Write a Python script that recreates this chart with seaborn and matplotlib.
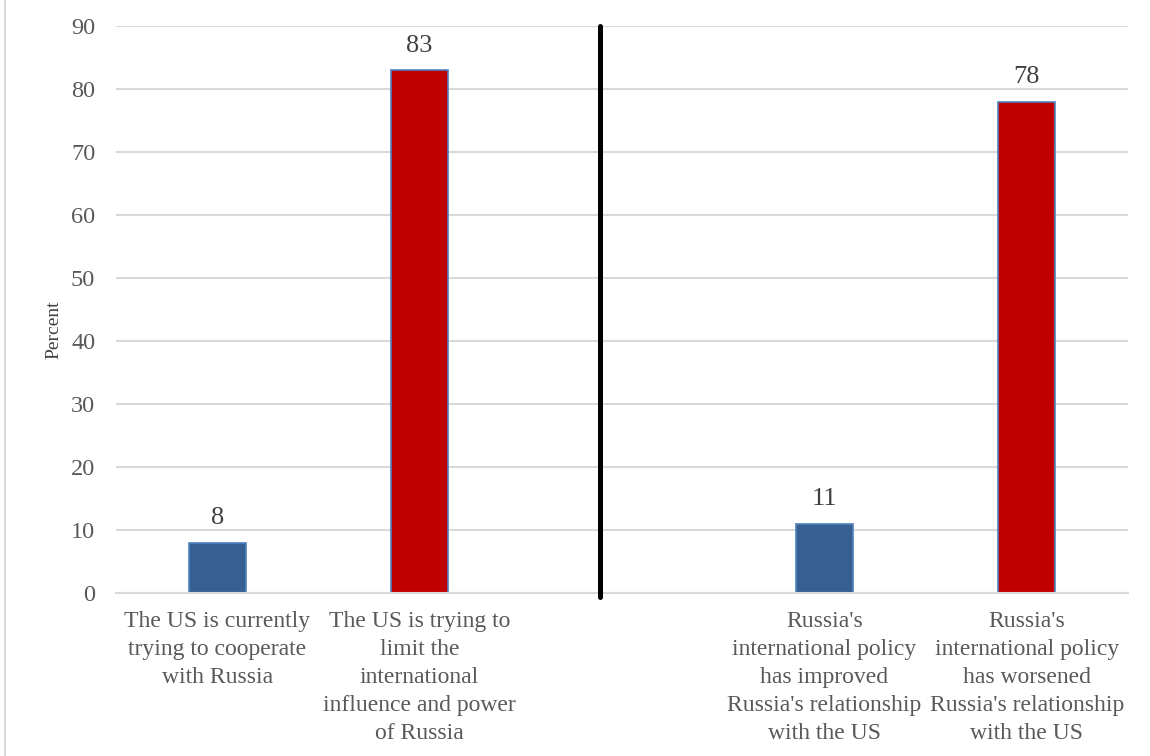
import matplotlib
matplotlib.use("Agg")
import matplotlib.pyplot as plt
import seaborn as sns
import pandas as pd
from matplotlib.patches import Rectangle

categories = [
    "The US is currently\ntrying to cooperate\nwith Russia",
    "The US is trying to\nlimit the\ninternational\ninfluence and power\nof Russia",
    "",
    "Russia's\ninternational policy\nhas improved\nRussia's relationship\nwith the US",
    "Russia's\ninternational policy\nhas worsened\nRussia's relationship\nwith the US",
]
values = [8, 83, None, 11, 78]
colors = ["#376092", "#C00000", "#FFFFFF", "#376092", "#C00000"]
yticks = [0, 10, 20, 30, 40, 50, 60, 70, 80, 90]

sns.set_theme(style="white")
plt.rcParams["font.family"] = ["Liberation Serif", "DejaVu Serif"]

df = pd.DataFrame({"cat": categories, "val": values, "col": colors}).dropna()

fig = plt.figure(figsize=(11.5, 7.56), dpi=100)
ax = fig.add_axes([116/1150, 1-593/756, (1128-116)/1150, (593-26)/756])

sns.barplot(data=df, x="cat", y="val", hue="cat", order=categories, hue_order=categories,
            palette=dict(zip(categories, colors)), legend=False, width=0.28, saturation=1,
            edgecolor="#4F81BD", linewidth=1.2, ax=ax)

for i, (c, v) in enumerate(zip(categories, values)):
    if v is not None:
        ax.text(i, v + 2.1, f"{v:g}", ha="center", va="bottom", fontsize=19, color="#404040")

ax.set_ylim(0, 90)
ax.set_xlim(-0.5, len(categories) - 0.5)
ax.set_yticks(yticks)
ax.grid(axis="y", color="#D9D9D9", linewidth=1.5)
ax.set_axisbelow(True)
for s in ["top", "right", "left"]:
    ax.spines[s].set_visible(False)
ax.spines["bottom"].set_color("#D9D9D9")
ax.spines["bottom"].set_linewidth(1.5)
ax.tick_params(axis="y", length=0, pad=15, labelsize=17.5, labelcolor="#595959")
ax.tick_params(axis="x", length=0, pad=13, labelsize=17, labelcolor="#595959")
for lab in ax.get_xticklabels():
    lab.set_linespacing(1.44)
ax.set_xlabel("")
ax.set_ylabel("Percent", fontsize=14, color="#404040")
ax.yaxis.set_label_coords(-0.053, 0.465)

ax.plot([1.893, 1.893], [-0.7, 90], color="black", linewidth=3.6, clip_on=False, zorder=5)

fig.patches.append(Rectangle((5/1150, -0.01), 1.2, 1.02, transform=fig.transFigure,
                             fill=False, edgecolor="#D9D9D9", linewidth=1.5))

fig.savefig("out.png", dpi=100)
